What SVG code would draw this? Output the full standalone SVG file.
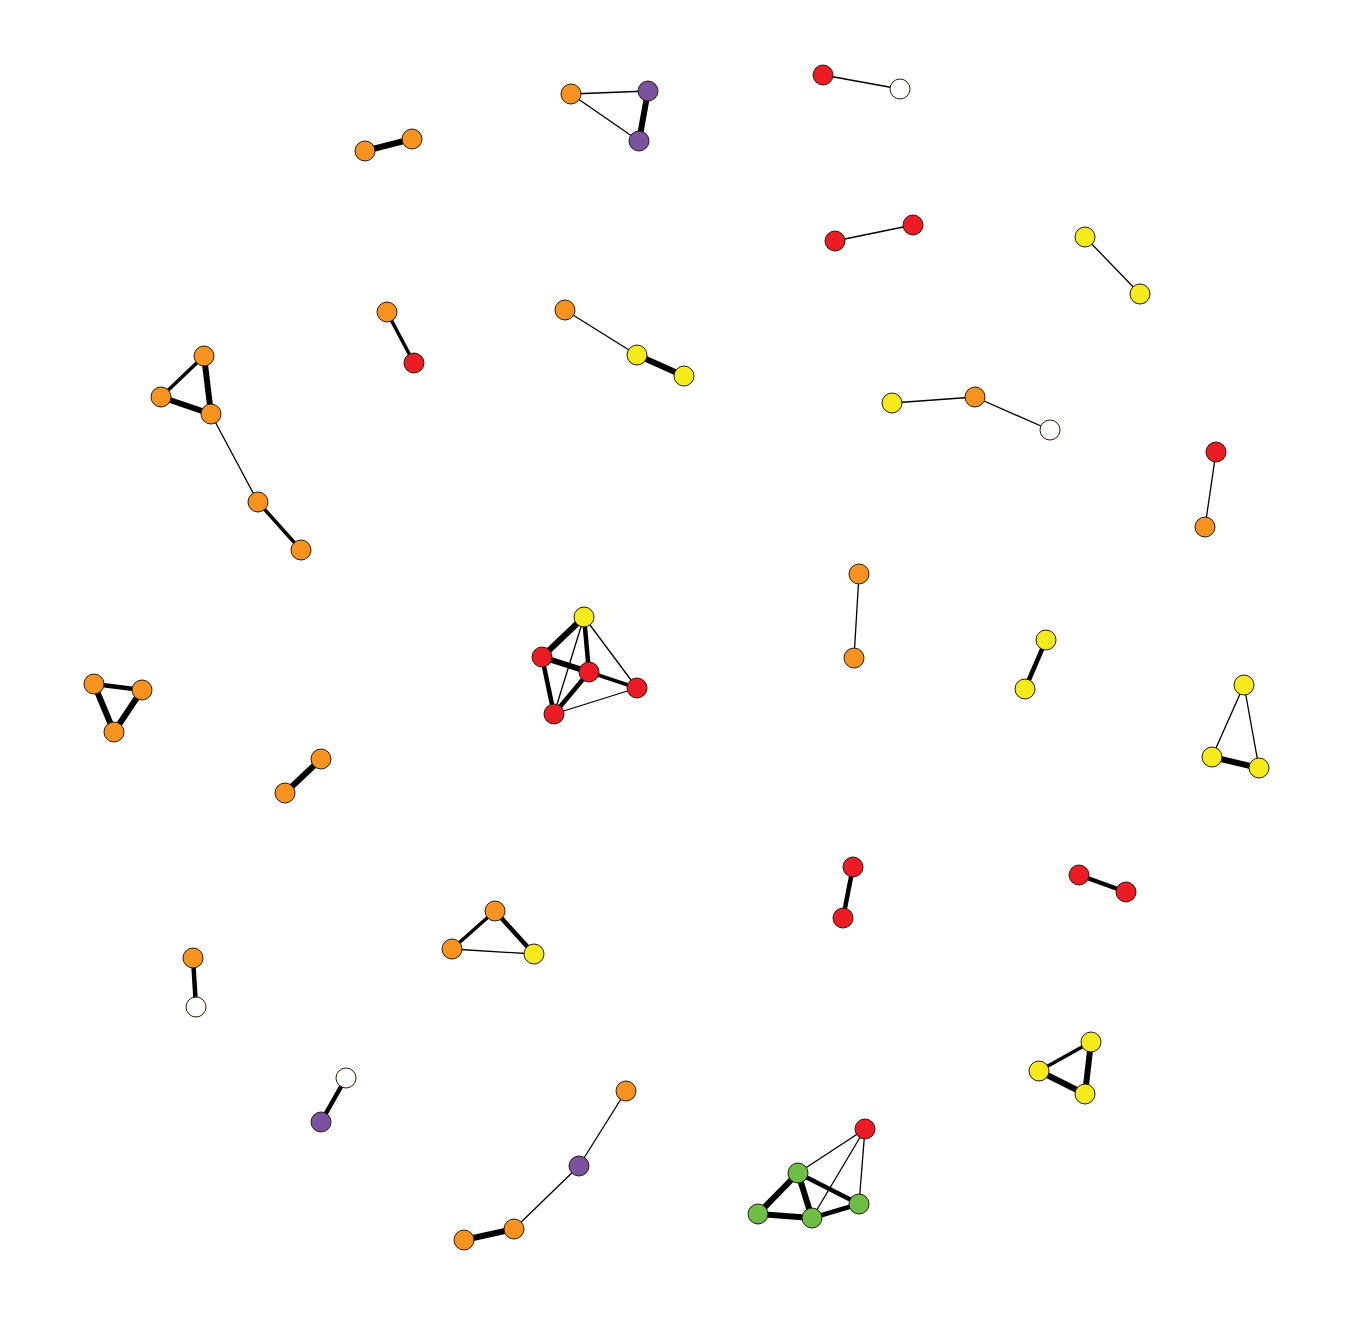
<svg xmlns="http://www.w3.org/2000/svg" width="1345" height="1326" viewBox="0 0 1345 1326">
<style>
.e{stroke:#000;stroke-linecap:round;fill:none}
.t1{stroke-width:1.3}
.t3{stroke-width:3.5}
.t4{stroke-width:4.5}
.t5{stroke-width:6}
circle{stroke:#2a1a0a;stroke-width:1}
.o{fill:#F7931E}.r{fill:#ED1C24}.y{fill:#F5EB1A}.p{fill:#7B52A0}.g{fill:#6CBE45}.w{fill:#FFFFFF}
</style>
<rect width="1345" height="1326" fill="#fff"/>
<g id="edges">
<line class="e t5" x1="365" y1="151" x2="412" y2="139"/>
<line class="e t1" x1="571" y1="94" x2="648" y2="91"/>
<line class="e t1" x1="571" y1="94" x2="639" y2="141"/>
<line class="e t5" x1="648" y1="91" x2="639" y2="141"/>
<line class="e t1" x1="823" y1="75" x2="900" y2="89"/>
<line class="e t1" x1="835" y1="241" x2="913" y2="225"/>
<line class="e t1" x1="1085" y1="237" x2="1140" y2="294"/>
<line class="e t3" x1="387" y1="312" x2="414" y2="363"/>
<line class="e t1" x1="565" y1="310" x2="637" y2="355"/>
<line class="e t5" x1="637" y1="355" x2="684" y2="376"/>
<line class="e t3" x1="204" y1="356" x2="161" y2="397"/>
<line class="e t5" x1="204" y1="356" x2="211" y2="414"/>
<line class="e t5" x1="161" y1="397" x2="211" y2="414"/>
<line class="e t1" x1="211" y1="414" x2="258" y2="502"/>
<line class="e t3" x1="258" y1="502" x2="301" y2="550"/>
<line class="e t1" x1="892" y1="403" x2="975" y2="397"/>
<line class="e t1" x1="975" y1="397" x2="1050" y2="430"/>
<line class="e t1" x1="1216" y1="452" x2="1205" y2="527"/>
<line class="e t1" x1="859" y1="574" x2="854" y2="658"/>
<line class="e t4" x1="1046" y1="640" x2="1025" y2="689"/>
<line class="e t4" x1="94" y1="684" x2="142" y2="690"/>
<line class="e t5" x1="94" y1="684" x2="114" y2="732"/>
<line class="e t5" x1="142" y1="690" x2="114" y2="732"/>
<line class="e t5" x1="321" y1="759" x2="285" y2="793"/>
<line class="e t1" x1="1244" y1="685" x2="1212" y2="757"/>
<line class="e t1" x1="1244" y1="685" x2="1259" y2="768"/>
<line class="e t5" x1="1212" y1="757" x2="1259" y2="768"/>
<line class="e t4" x1="853" y1="867" x2="843" y2="918"/>
<line class="e t4" x1="1079" y1="875" x2="1126" y2="892"/>
<line class="e t3" x1="495" y1="911" x2="452" y2="949"/>
<line class="e t4" x1="495" y1="911" x2="534" y2="954"/>
<line class="e t1" x1="452" y1="949" x2="534" y2="954"/>
<line class="e t4" x1="193" y1="958" x2="196" y2="1007"/>
<line class="e t3" x1="1091" y1="1042" x2="1039" y2="1071"/>
<line class="e t5" x1="1091" y1="1042" x2="1085" y2="1094"/>
<line class="e t5" x1="1039" y1="1071" x2="1085" y2="1094"/>
<line class="e t4" x1="346" y1="1078" x2="321" y2="1122"/>
<line class="e t1" x1="626" y1="1091" x2="579" y2="1166"/>
<line class="e t1" x1="579" y1="1166" x2="514" y2="1229"/>
<line class="e t5" x1="514" y1="1229" x2="464" y2="1240"/>
<!-- central cluster -->
<line class="e t5" x1="584" y1="617" x2="542" y2="657"/>
<line class="e t4" x1="584" y1="617" x2="589" y2="672"/>
<line class="e t1" x1="584" y1="617" x2="637" y2="688"/>
<line class="e t1" x1="584" y1="617" x2="554" y2="714"/>
<line class="e t5" x1="542" y1="657" x2="589" y2="672"/>
<line class="e t4" x1="542" y1="657" x2="554" y2="714"/>
<line class="e t3" x1="589" y1="672" x2="637" y2="688"/>
<line class="e t4" x1="589" y1="672" x2="554" y2="714"/>
<line class="e t1" x1="637" y1="688" x2="554" y2="714"/>
<!-- green cluster -->
<line class="e t1" x1="865" y1="1129" x2="798" y2="1173"/>
<line class="e t1" x1="865" y1="1129" x2="812" y2="1218"/>
<line class="e t1" x1="865" y1="1129" x2="859" y2="1204"/>
<line class="e t5" x1="798" y1="1173" x2="758" y2="1214"/>
<line class="e t5" x1="798" y1="1173" x2="812" y2="1218"/>
<line class="e t4" x1="798" y1="1173" x2="859" y2="1204"/>
<line class="e t5" x1="758" y1="1214" x2="812" y2="1218"/>
<line class="e t4" x1="812" y1="1218" x2="859" y2="1204"/>
</g>
<g id="nodes">
<g id="n1"><circle class="o" cx="365" cy="151" r="10"/></g>
<g id="n2"><circle class="o" cx="412" cy="139" r="10"/></g>
<g id="n3"><circle class="o" cx="571" cy="94" r="10"/></g>
<g id="n4"><circle class="p" cx="648" cy="91" r="10"/></g>
<g id="n5"><circle class="p" cx="639" cy="141" r="10"/></g>
<g id="n6"><circle class="r" cx="823" cy="75" r="10"/></g>
<g id="n7"><circle class="w" cx="900" cy="89" r="10"/></g>
<g id="n8"><circle class="r" cx="835" cy="241" r="10"/></g>
<g id="n9"><circle class="r" cx="913" cy="225" r="10"/></g>
<g id="n10"><circle class="y" cx="1085" cy="237" r="10"/></g>
<g id="n11"><circle class="y" cx="1140" cy="294" r="10"/></g>
<g id="n12"><circle class="o" cx="387" cy="312" r="10"/></g>
<g id="n13"><circle class="r" cx="414" cy="363" r="10"/></g>
<g id="n14"><circle class="o" cx="565" cy="310" r="10"/></g>
<g id="n15"><circle class="y" cx="637" cy="355" r="10"/></g>
<g id="n16"><circle class="y" cx="684" cy="376" r="10"/></g>
<g id="n17"><circle class="o" cx="204" cy="356" r="10"/></g>
<g id="n18"><circle class="o" cx="161" cy="397" r="10"/></g>
<g id="n19"><circle class="o" cx="211" cy="414" r="10"/></g>
<g id="n20"><circle class="o" cx="258" cy="502" r="10"/></g>
<g id="n21"><circle class="o" cx="301" cy="550" r="10"/></g>
<g id="n22"><circle class="y" cx="892" cy="403" r="10"/></g>
<g id="n23"><circle class="o" cx="975" cy="397" r="10"/></g>
<g id="n24"><circle class="w" cx="1050" cy="430" r="10"/></g>
<g id="n25"><circle class="r" cx="1216" cy="452" r="10"/></g>
<g id="n26"><circle class="o" cx="1205" cy="527" r="10"/></g>
<g id="n27"><circle class="o" cx="859" cy="574" r="10"/></g>
<g id="n28"><circle class="o" cx="854" cy="658" r="10"/></g>
<g id="n29"><circle class="y" cx="1046" cy="640" r="10"/></g>
<g id="n30"><circle class="y" cx="1025" cy="689" r="10"/></g>
<g id="n31"><circle class="o" cx="94" cy="684" r="10"/></g>
<g id="n32"><circle class="o" cx="142" cy="690" r="10"/></g>
<g id="n33"><circle class="o" cx="114" cy="732" r="10"/></g>
<g id="n34"><circle class="o" cx="321" cy="759" r="10"/></g>
<g id="n35"><circle class="o" cx="285" cy="793" r="10"/></g>
<g id="n36"><circle class="y" cx="1244" cy="685" r="10"/></g>
<g id="n37"><circle class="y" cx="1212" cy="757" r="10"/></g>
<g id="n38"><circle class="y" cx="1259" cy="768" r="10"/></g>
<g id="n39"><circle class="r" cx="853" cy="867" r="10"/></g>
<g id="n40"><circle class="r" cx="843" cy="918" r="10"/></g>
<g id="n41"><circle class="r" cx="1079" cy="875" r="10"/></g>
<g id="n42"><circle class="r" cx="1126" cy="892" r="10"/></g>
<g id="n43"><circle class="o" cx="495" cy="911" r="10"/></g>
<g id="n44"><circle class="o" cx="452" cy="949" r="10"/></g>
<g id="n45"><circle class="y" cx="534" cy="954" r="10"/></g>
<g id="n46"><circle class="o" cx="193" cy="958" r="10"/></g>
<g id="n47"><circle class="w" cx="196" cy="1007" r="10"/></g>
<g id="n48"><circle class="y" cx="1091" cy="1042" r="10"/></g>
<g id="n49"><circle class="y" cx="1039" cy="1071" r="10"/></g>
<g id="n50"><circle class="y" cx="1085" cy="1094" r="10"/></g>
<g id="n51"><circle class="w" cx="346" cy="1078" r="10"/></g>
<g id="n52"><circle class="p" cx="321" cy="1122" r="10"/></g>
<g id="n53"><circle class="o" cx="626" cy="1091" r="10"/></g>
<g id="n54"><circle class="p" cx="579" cy="1166" r="10"/></g>
<g id="n55"><circle class="o" cx="514" cy="1229" r="10"/></g>
<g id="n56"><circle class="o" cx="464" cy="1240" r="10"/></g>
<g id="n57"><circle class="y" cx="584" cy="617" r="10"/></g>
<g id="n58"><circle class="r" cx="542" cy="657" r="10"/></g>
<g id="n59"><circle class="r" cx="589" cy="672" r="10"/></g>
<g id="n60"><circle class="r" cx="637" cy="688" r="10"/></g>
<g id="n61"><circle class="r" cx="554" cy="714" r="10"/></g>
<g id="n62"><circle class="r" cx="865" cy="1129" r="10"/></g>
<g id="n63"><circle class="g" cx="798" cy="1173" r="10"/></g>
<g id="n64"><circle class="g" cx="758" cy="1214" r="10"/></g>
<g id="n65"><circle class="g" cx="812" cy="1218" r="10"/></g>
<g id="n66"><circle class="g" cx="859" cy="1204" r="10"/></g>
</g>
</svg>
